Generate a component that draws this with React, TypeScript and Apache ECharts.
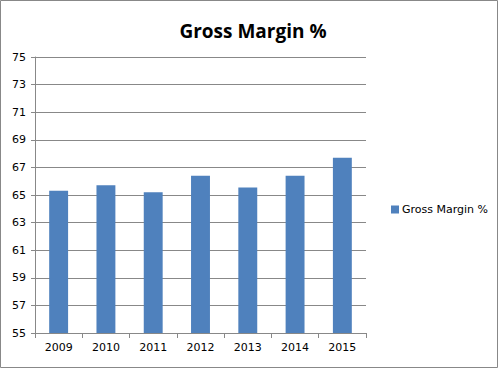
import React, { useEffect, useRef } from "react";
import * as echarts from "echarts";

const categories = ["2009", "2010", "2011", "2012", "2013", "2014", "2015"];
const grossMargin = [65.3, 65.7, 65.2, 66.4, 65.55, 66.4, 67.7];
const seriesName = "Gross Margin %";

export default function App() {
  const ref = useRef<HTMLDivElement>(null);
  useEffect(() => {
    const chart = echarts.init(ref.current!, null, { renderer: "svg" });
    chart.setOption({
      animation: false,
      backgroundColor: "#ffffff",
      title: {
        text: "Gross Margin %",
        left: 248,
        textAlign: "center",
        top: 16,
        textStyle: { fontFamily: "Open Sans", fontWeight: "bold", fontSize: 19, color: "#000" },
      },
      graphic: [
        {
          type: "rect",
          shape: { x: 0.5, y: 0.5, width: 497, height: 367 },
          style: { fill: "none", stroke: "#888", lineWidth: 1 },
        },
      ],
      legend: {
        data: [seriesName],
        left: 386,
        top: 199,
        itemWidth: 8,
        itemHeight: 8,
        itemGap: 4,
        icon: "rect",
        textStyle: { fontFamily: "DejaVu Sans", fontSize: 11, color: "#000", padding: [0, 0, 0, -2] },
      },
      grid: { left: 35, right: 133, top: 57, bottom: 36, containLabel: false },
      xAxis: {
        type: "category",
        data: categories,
        axisLine: { lineStyle: { color: "#888" } },
        axisTick: { show: true, alignWithLabel: false, length: 5, lineStyle: { color: "#888" } },
        axisLabel: { fontFamily: "DejaVu Sans", fontSize: 11, color: "#000", margin: 9 },
      },
      yAxis: {
        type: "value",
        min: 55,
        max: 75,
        interval: 2,
        axisLine: { show: true, lineStyle: { color: "#888" } },
        axisTick: { show: true, length: 4, lineStyle: { color: "#888" } },
        axisLabel: { fontFamily: "DejaVu Sans", fontSize: 11, color: "#000", margin: 9 },
        splitLine: { lineStyle: { color: "#888" } },
      },
      series: [
        {
          name: seriesName,
          type: "bar",
          data: grossMargin,
          barWidth: "40%",
          itemStyle: { color: "#4f81bd" },
        },
      ],
    });
    return () => chart.dispose();
  }, []);
  return (
    <div
      ref={ref}
      style={{ position: "absolute", left: 0, top: 0, width: 499, height: 369 }}
    />
  );
}
